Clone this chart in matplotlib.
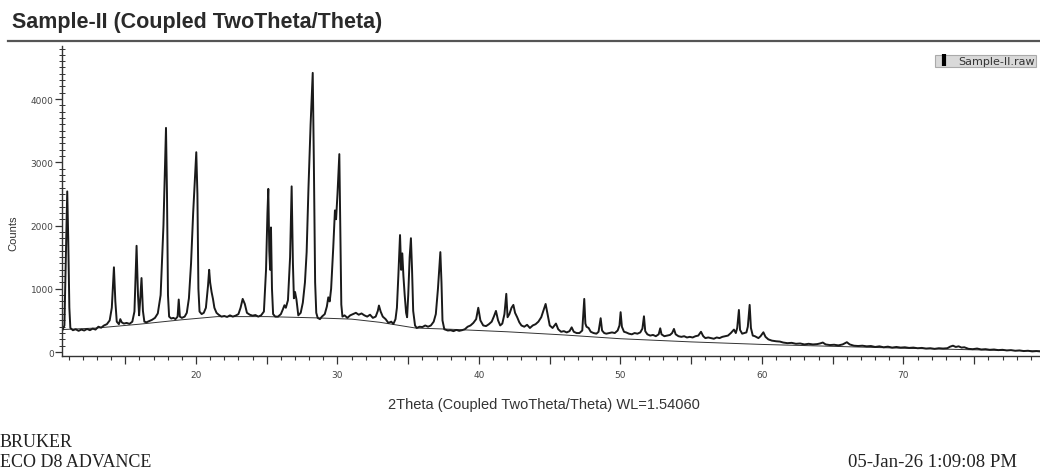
import matplotlib
matplotlib.use("Agg")
import matplotlib.pyplot as plt
from matplotlib.lines import Line2D
from matplotlib.ticker import MultipleLocator, FuncFormatter

# measured scan, 2theta (deg) and counts
two_theta = [
    10.55, 10.7, 10.8, 10.9, 10.97, 11.05, 11.12, 11.3, 11.5, 11.7,
    11.9, 12.1, 12.3, 12.5, 12.7, 12.9, 13.1, 13.3, 13.5, 13.7,
    13.9, 14.05, 14.2, 14.3, 14.4, 14.55, 14.65, 14.75, 14.9, 15.1,
    15.3, 15.5, 15.65, 15.8, 15.9, 15.98, 16.05, 16.15, 16.25, 16.35,
    16.5, 16.7, 16.9, 17.1, 17.3, 17.5, 17.7, 17.88, 17.95, 18.02,
    18.1, 18.25, 18.4, 18.55, 18.7, 18.78, 18.86, 19.0, 19.2, 19.35,
    19.5, 19.65, 19.8, 19.95, 20.02, 20.1, 20.17, 20.25, 20.4, 20.55,
    20.7, 20.85, 20.93, 21.0, 21.1, 21.2, 21.3, 21.45, 21.6, 21.8,
    22.0, 22.2, 22.4, 22.6, 22.8, 23.0, 23.15, 23.3, 23.45, 23.6,
    23.8, 24.0, 24.2, 24.4, 24.6, 24.8, 24.95, 25.05, 25.11, 25.18,
    25.24, 25.3, 25.37, 25.45, 25.6, 25.8, 26.0, 26.15, 26.25, 26.35,
    26.5, 26.65, 26.76, 26.85, 26.92, 27.0, 27.1, 27.23, 27.4, 27.55,
    27.7, 27.82, 27.95, 28.1, 28.25, 28.33, 28.42, 28.5, 28.6, 28.76,
    28.9, 29.1, 29.25, 29.35, 29.45, 29.55, 29.7, 29.82, 29.9, 30.0,
    30.13, 30.2, 30.27, 30.35, 30.5, 30.7, 30.9, 31.1, 31.3, 31.5,
    31.7, 31.9, 32.1, 32.3, 32.5, 32.7, 32.85, 32.93, 33.05, 33.2,
    33.4, 33.6, 33.8, 33.95, 34.1, 34.2, 34.3, 34.42, 34.5, 34.58,
    34.66, 34.75, 34.85, 34.92, 35.0, 35.1, 35.19, 35.27, 35.35, 35.48,
    35.6, 35.8, 36.0, 36.2, 36.4, 36.6, 36.8, 36.95, 37.1, 37.27,
    37.35, 37.42, 37.55, 37.8, 38.0, 38.2, 38.4, 38.6, 38.8, 39.0,
    39.2, 39.4, 39.6, 39.8, 39.95, 40.1, 40.3, 40.5, 40.7, 40.9,
    41.05, 41.2, 41.35, 41.5, 41.65, 41.8, 41.93, 42.02, 42.15, 42.3,
    42.43, 42.55, 42.7, 42.85, 43.0, 43.2, 43.4, 43.6, 43.8, 44.0,
    44.2, 44.4, 44.55, 44.71, 44.85, 45.0, 45.2, 45.44, 45.6, 45.8,
    46.0, 46.2, 46.4, 46.55, 46.7, 46.9, 47.1, 47.3, 47.44, 47.52,
    47.6, 47.75, 47.9, 48.1, 48.3, 48.45, 48.6, 48.7, 48.85, 49.0,
    49.2, 49.4, 49.6, 49.8, 49.93, 50.01, 50.1, 50.25, 50.4, 50.6,
    50.8, 51.0, 51.2, 51.4, 51.55, 51.66, 51.75, 51.9, 52.1, 52.3,
    52.5, 52.7, 52.81, 52.9, 53.1, 53.3, 53.5, 53.65, 53.78, 53.9,
    54.1, 54.3, 54.5, 54.7, 54.9, 55.1, 55.3, 55.5, 55.69, 55.85,
    56.0, 56.2, 56.4, 56.6, 56.8, 57.0, 57.2, 57.4, 57.6, 57.8,
    58.02, 58.15, 58.25, 58.37, 58.45, 58.6, 58.75, 58.9, 59.0, 59.13,
    59.22, 59.35, 59.5, 59.75, 59.9, 60.1, 60.25, 60.45, 60.7, 61.0,
    61.27, 61.5, 61.8, 62.1, 62.4, 62.7, 63.0, 63.3, 63.6, 63.9,
    64.1, 64.3, 64.5, 64.8, 65.1, 65.4, 65.7, 66.0, 66.2, 66.5,
    66.8, 67.1, 67.4, 67.7, 68.0, 68.3, 68.6, 68.9, 69.2, 69.5,
    69.8, 70.1, 70.4, 70.7, 71.0, 71.3, 71.6, 71.9, 72.2, 72.5,
    72.8, 73.1, 73.3, 73.5, 73.7, 73.9, 74.1, 74.3, 74.6, 74.9,
    75.2, 75.5, 75.8, 76.1, 76.4, 76.7, 77.0, 77.3, 77.6, 77.9,
    78.2, 78.5, 78.8, 79.1, 79.4, 79.65,
]
counts = [
    340, 420, 1500, 2540, 1800, 700, 380, 345, 360, 335,
    355, 340, 365, 345, 370, 355, 400, 385, 420, 440,
    500, 700, 1340, 800, 480, 440, 520, 470, 450, 460,
    445, 480, 640, 1680, 900, 580, 800, 1170, 650, 480,
    470, 490, 510, 540, 610, 900, 2000, 3545, 2500, 900,
    560, 530, 540, 520, 560, 830, 560, 540, 560, 620,
    850, 1400, 2200, 2850, 3160, 2500, 1000, 640, 600, 620,
    700, 1050, 1300, 1100, 950, 840, 700, 620, 590, 560,
    570, 555, 580, 560, 575, 600, 700, 840, 760, 620,
    590, 575, 585, 560, 580, 640, 1300, 2200, 2580, 1600,
    1300, 1970, 1000, 600, 560, 560, 600, 680, 740, 700,
    820, 1500, 2620, 1400, 850, 950, 830, 580, 620, 780,
    1100, 1580, 2600, 3600, 4415, 3000, 1100, 620, 540, 520,
    560, 600, 720, 865, 800, 1000, 1650, 2240, 2100, 2500,
    3130, 1900, 750, 560, 580, 540, 580, 600, 620, 590,
    610, 580, 560, 590, 540, 560, 650, 735, 640, 560,
    520, 460, 480, 443, 520, 700, 1200, 1850, 1300, 1560,
    1200, 900, 620, 550, 900, 1500, 1800, 1300, 650, 420,
    380, 400, 395, 420, 400, 420, 480, 600, 1000, 1580,
    1100, 500, 360, 340, 345, 330, 350, 335, 345, 360,
    400, 420, 460, 520, 700, 500, 420, 410, 440, 480,
    560, 650, 500, 420, 450, 600, 920, 550, 600, 700,
    745, 620, 550, 470, 420, 400, 430, 380, 420, 440,
    480, 550, 650, 760, 600, 420, 380, 450, 360, 320,
    330, 310, 330, 390, 320, 300, 300, 340, 840, 450,
    400, 380, 320, 300, 290, 320, 535, 340, 300, 290,
    300, 310, 300, 340, 420, 630, 400, 320, 310, 290,
    280, 300, 290, 310, 370, 565, 330, 280, 260, 270,
    250, 280, 375, 280, 250, 260, 270, 300, 365, 280,
    250, 240, 250, 230, 240, 230, 250, 260, 320, 250,
    220, 230, 220, 210, 230, 220, 240, 250, 260, 300,
    355, 300, 380, 665, 350, 290, 300, 310, 400, 745,
    380, 260, 250, 220, 250, 312, 240, 200, 180, 170,
    165, 150, 140, 145, 130, 135, 120, 130, 120, 125,
    135, 150, 120, 110, 115, 105, 120, 155, 120, 100,
    95, 100, 90, 95, 80, 90, 75, 85, 70, 80,
    70, 75, 65, 70, 60, 65, 55, 60, 50, 60,
    55, 60, 85, 100, 80, 90, 70, 75, 50, 45,
    55, 40, 45, 35, 40, 30, 35, 25, 30, 20,
    25, 15, 20, 10, 15, 10,
]

# fitted background curve
bg_theta = [10.55, 13.0, 16.0, 19.0, 21.5, 25.0, 28.5, 31.0, 33.0, 35.5,
            38.0, 42.0, 46.0, 50.0, 55.0, 60.0, 65.0, 70.0, 75.0, 79.65]
bg_counts = [355, 380, 440, 510, 560, 560, 540, 520, 470, 380,
             360, 320, 270, 210, 160, 120, 90, 60, 35, 15]

W, H = 1040, 477
fig = plt.figure(figsize=(W / 100, H / 100), dpi=100)
ax = fig.add_axes([62 / W, 1 - 357 / H, 1 - 62 / W, (357 - 47) / H])

ax.plot(bg_theta, bg_counts, color="#333333", lw=0.7)
ax.plot(two_theta, counts, color="#1a1a1a", lw=1.4, label="Sample-II.raw")

ax.set_xlim(10.53, 79.65)
ax.set_ylim(-63, 4840)

for side in ("top", "right"):
    ax.spines[side].set_visible(False)
for side in ("left", "bottom"):
    ax.spines[side].set_color("#333333")
    ax.spines[side].set_linewidth(1.0)

ax.xaxis.set_major_locator(MultipleLocator(5))
ax.xaxis.set_minor_locator(MultipleLocator(1))
ax.xaxis.set_major_formatter(FuncFormatter(lambda v, p: f"{v:.0f}" if v % 10 == 0 else ""))
ax.yaxis.set_major_locator(MultipleLocator(1000))
ax.yaxis.set_minor_locator(MultipleLocator(100))
ax.tick_params(axis="x", which="major", direction="out", length=6, width=0.9,
               labelsize=6.5, labelcolor="#444444", color="#333333", pad=4)
ax.tick_params(axis="x", which="minor", direction="out", length=3, width=0.8, color="#333333")
ax.tick_params(axis="y", which="major", direction="out", length=5, width=0.9,
               labelsize=6.5, labelcolor="#444444", color="#333333", pad=1)
ax.tick_params(axis="y", which="minor", direction="inout", length=4, width=0.7, color="#333333")

handle = Line2D([], [], color="black", marker="|", linestyle="None",
                markersize=8, markeredgewidth=3)
leg = ax.legend([handle], ["Sample-II.raw"], loc="upper right",
                bbox_to_anchor=(1036 / W, 1 - 56 / H), bbox_transform=fig.transFigure,
                fontsize=8, frameon=True, fancybox=False, borderpad=0.1,
                handlelength=1.4, handletextpad=0.6, borderaxespad=0)
leg.get_frame().set_facecolor("#d0d0d0")
leg.get_frame().set_edgecolor("#9a9a9a")
leg.get_frame().set_linewidth(0.8)
for t in leg.get_texts():
    t.set_color("#333333")

fig.text(12 / W, 1 - 28 / H, "Sample-II (Coupled TwoTheta/Theta)",
         fontsize=15.5, fontweight="bold", family="Liberation Sans",
         color="#2a2a2a", va="baseline", ha="left")
fig.add_artist(Line2D([8 / W, 1], [1 - 41.5 / H, 1 - 41.5 / H],
                      transform=fig.transFigure, color="#555555", lw=1.6))

fig.text(13 / W, 1 - 233 / H, "Counts", rotation=90, fontsize=8,
         family="Liberation Sans", color="#333333", ha="center", va="center")
fig.text(544 / W, 1 - 405 / H, "2Theta (Coupled TwoTheta/Theta) WL=1.54060",
         fontsize=10.5, family="Liberation Sans", color="#333333", ha="center", va="center")

fig.text(0, 1 - 443 / H, "BRUKER", fontsize=13, family="Liberation Serif",
         color="#222222", ha="left", va="center")
fig.text(0, 1 - 463 / H, "ECO D8 ADVANCE", fontsize=13, family="Liberation Serif",
         color="#222222", ha="left", va="center")
fig.text(848 / W, 1 - 463 / H, "05-Jan-26 1:09:08 PM", fontsize=13.5,
         family="Liberation Serif", color="#222222", ha="left", va="center")

fig.savefig("out.png", dpi=100, facecolor="white")
